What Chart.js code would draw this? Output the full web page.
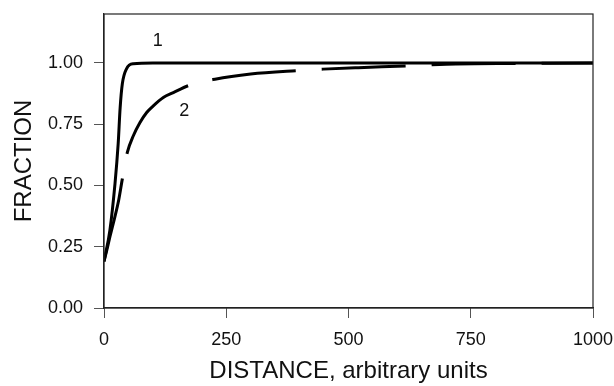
<!DOCTYPE html>
<html>
<head>
<meta charset="utf-8">
<script src="https://cdn.jsdelivr.net/npm/chart.js@4/dist/chart.umd.min.js"></script>
<style>
  html, body { margin: 0; padding: 0; background: #fff; }
  #wrap { width: 614px; height: 386px; }
</style>
</head>
<body>
<div id="wrap"><canvas id="chart-canvas" width="614" height="386"></canvas></div>
<script>
// curve 1 (solid)
const dist1 = [0, 12, 22.5, 29, 33, 37.5, 46, 60, 100, 1000];
const frac1 = [0.19, 0.317, 0.508, 0.671, 0.817, 0.915, 0.976, 0.997, 1.0, 1.0];
// curve 2 (dashed)
const dist2 = [0, 5, 12, 22, 30, 37.5, 47.7, 60, 73.6, 87.3, 100.8, 121.3, 141.8, 174.5, 227, 300, 395, 448, 520, 619, 700, 850, 1000];
const frac2 = [0.19, 0.23, 0.29, 0.37, 0.44, 0.527, 0.635, 0.703, 0.757, 0.798, 0.825, 0.859, 0.879, 0.909, 0.934, 0.955, 0.969, 0.975, 0.981, 0.988, 0.995, 0.998, 1.0];

const xTicks = [0, 250, 500, 750, 1000];
const yTicks = [0, 0.25, 0.5, 0.75, 1.0];
// curve labels: text, distance, fraction
const curveLabels = [["1", 110, 1.09], ["2", 164, 0.805]];

const toPoints = (xs, ys) => xs.map((x, i) => ({x: x, y: ys[i]}));

const frame = {
  id: 'frame',
  afterDraw(chart) {
    const {ctx, chartArea: a, scales} = chart;
    ctx.save();
    ctx.strokeStyle = '#222';
    ctx.lineWidth = 1.2;
    ctx.strokeRect(a.left, a.top, a.right - a.left, a.bottom - a.top);
    ctx.fillStyle = '#111';
    ctx.font = '18px "Liberation Sans", Arial, sans-serif';
    ctx.textAlign = 'center';
    ctx.textBaseline = 'middle';
    curveLabels.forEach(l => {
      ctx.fillText(l[0], scales.x.getPixelForValue(l[1]), scales.y.getPixelForValue(l[2]));
    });
    ctx.restore();
  }
};

// drop the label overhang padding so the plot box sits where layout says
const noPad = s => { s.paddingTop = 0; s.paddingBottom = 0; s.paddingLeft = 0; s.paddingRight = 0; };

const tickFont = {family: '"Liberation Sans", Arial, sans-serif', size: 18};
const titleFont = {family: '"Liberation Sans", Arial, sans-serif', size: 24, lineHeight: 0.92};

const context = document.getElementById('chart-canvas').getContext('2d');
const makeChart = new Chart(context, {
  type: 'scatter',
  data: {
    datasets: [{
      label: '1',
      data: toPoints(dist1, frac1),
      showLine: true,
      borderColor: '#000',
      borderWidth: 3,
      pointRadius: 0,
      cubicInterpolationMode: 'monotone'
    }, {
      label: '2',
      data: toPoints(dist2, frac2),
      showLine: true,
      borderColor: '#000',
      borderWidth: 3,
      // dash lengths as drawn in the original (second dash is a bit longer)
      borderDash: [85, 25, 96, 25, 84, 26, 84, 26, 84, 26, 84, 26],
      pointRadius: 0,
      cubicInterpolationMode: 'monotone'
    }]
  },
  options: {
    responsive: false,
    animation: false,
    layout: {padding: {left: 0, top: 14, right: 21, bottom: 0}},
    plugins: {legend: {display: false}, tooltip: {enabled: false}},
    scales: {
      x: {
        type: 'linear',
        min: 0, max: 1000,
        afterFit: s => { s.height = 78; noPad(s); },
        afterBuildTicks: s => { s.ticks = xTicks.map(v => ({value: v})); },
        grid: {drawOnChartArea: false, drawTicks: true, tickLength: 10, color: '#555'},
        border: {display: true, color: '#222', width: 1.2},
        ticks: {color: '#111', font: tickFont, padding: 11, maxRotation: 0, callback: v => String(v)},
        title: {display: true, text: 'DISTANCE, arbitrary units', color: '#111', font: titleFont, padding: {top: 0, bottom: 4}}
      },
      y: {
        type: 'linear',
        min: 0, max: 1.2,
        afterFit: s => { s.width = 104; noPad(s); },
        afterBuildTicks: s => { s.ticks = yTicks.map(v => ({value: v})); },
        grid: {drawOnChartArea: false, drawTicks: true, tickLength: 10, color: '#555'},
        border: {display: true, color: '#222', width: 1.2},
        ticks: {color: '#111', font: tickFont, padding: 11, callback: v => v.toFixed(2)},
        title: {display: true, text: 'FRACTION', color: '#111', font: titleFont, padding: {top: 13, bottom: 0}}
      }
    }
  },
  plugins: [frame]
});
</script>
</body>
</html>
